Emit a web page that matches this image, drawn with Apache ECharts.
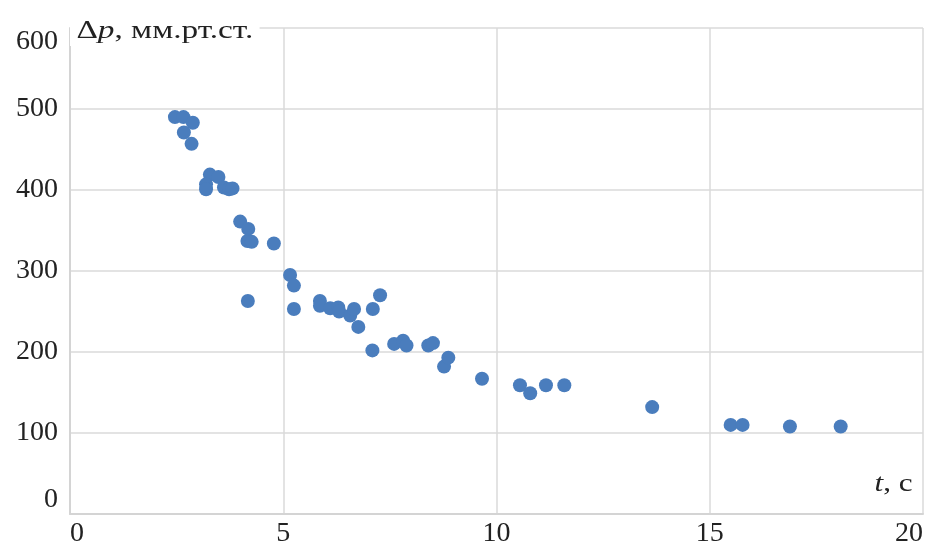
<!DOCTYPE html>
<html>
<head>
<meta charset="utf-8">
<script src="https://cdn.jsdelivr.net/npm/echarts@6/dist/echarts.min.js"></script>
<style>html,body{margin:0;padding:0;background:#fff}#c{width:932px;height:548px}</style>
</head>
<body>
<div id="c"></div>
<script>
const tValues = [2.46, 2.66, 2.88, 2.67, 2.85, 3.28, 3.48, 3.19, 3.19, 3.61, 3.73, 3.81, 3.99, 4.18, 4.16, 4.26, 4.78, 4.17, 5.16, 5.25, 5.25, 5.86, 5.86, 6.10, 6.29, 6.31, 6.57, 6.66, 6.76, 7.10, 7.27, 7.09, 7.60, 7.81, 7.89, 8.40, 8.51, 8.77, 8.87, 9.66, 10.55, 10.79, 11.16, 11.59, 13.65, 15.49, 15.77, 16.88, 18.07];
const dpValues = [490, 490, 483, 471, 457, 419, 416, 407, 401, 403, 401, 402, 361, 352, 337, 336, 334, 263, 295, 282, 253, 263, 257, 254, 255, 250, 245, 253, 231, 253, 270, 202, 210, 214, 208, 208, 211, 182, 193, 167, 159, 149, 159, 159, 132, 110, 110, 108, 108];
const yAxisTitle = '{n|Δ}{i|p}{n|, мм.рт.ст.}';
const xAxisTitle = '{i|t}{n|, с}';

const font = 'Liberation Serif';
const fs = 28;
const tfs = 26;
const rich = {
  n: {fontFamily: font, fontSize: tfs, fill: '#222', fontStyle: 'normal'},
  i: {fontFamily: font, fontSize: tfs, fill: '#222', fontStyle: 'italic'}
};
const chart = echarts.init(document.getElementById('c'), null, {renderer: 'canvas'});
chart.setOption({
  animation: false,
  backgroundColor: '#fff',
  graphic: [
    {type: 'text', z: 100, x: 70, y: 16, scaleX: 1.28,
     style: {text: yAxisTitle, rich: rich, fontFamily: font, fontSize: tfs, fill: '#222',
       backgroundColor: '#fff', padding: [2, 5, 2, 5], align: 'left', verticalAlign: 'top'}},
    {type: 'text', z: 100, x: 915, y: 469, scaleX: 1.2,
     style: {text: xAxisTitle, rich: rich, fontFamily: font, fontSize: tfs, fill: '#222',
       backgroundColor: '#fff', padding: [2, 2, 2, 4], align: 'right', verticalAlign: 'top'}}
  ],
  grid: {left: 70, right: 9, top: 28, bottom: 32, containLabel: false},
  xAxis: {
    type: 'value', min: 0, max: 20, interval: 5,
    axisLine: {show: true, lineStyle: {color: '#d4d4d4', width: 2}},
    axisTick: {show: false},
    splitLine: {show: true, lineStyle: {color: '#dadada', width: 1.5}},
    axisLabel: {fontFamily: font, fontSize: fs, color: '#222', margin: 6,
      alignMinLabel: 'left', alignMaxLabel: 'right'}
  },
  yAxis: {
    type: 'value', min: 0, max: 600, interval: 100,
    axisLine: {show: true, lineStyle: {color: '#d4d4d4', width: 2}},
    axisTick: {show: false},
    splitLine: {show: true, lineStyle: {color: '#dadada', width: 1.5}},
    axisLabel: {fontFamily: font, fontSize: fs, color: '#222', margin: 12,
      verticalAlignMinLabel: 'bottom', verticalAlignMaxLabel: 'top'}
  },
  series: [{
    type: 'scatter',
    symbol: 'circle',
    symbolSize: 14,
    itemStyle: {color: '#4a7dbd', opacity: 1},
    data: tValues.map((t, i) => [t, dpValues[i]])
  }]
});
</script>
</body>
</html>
